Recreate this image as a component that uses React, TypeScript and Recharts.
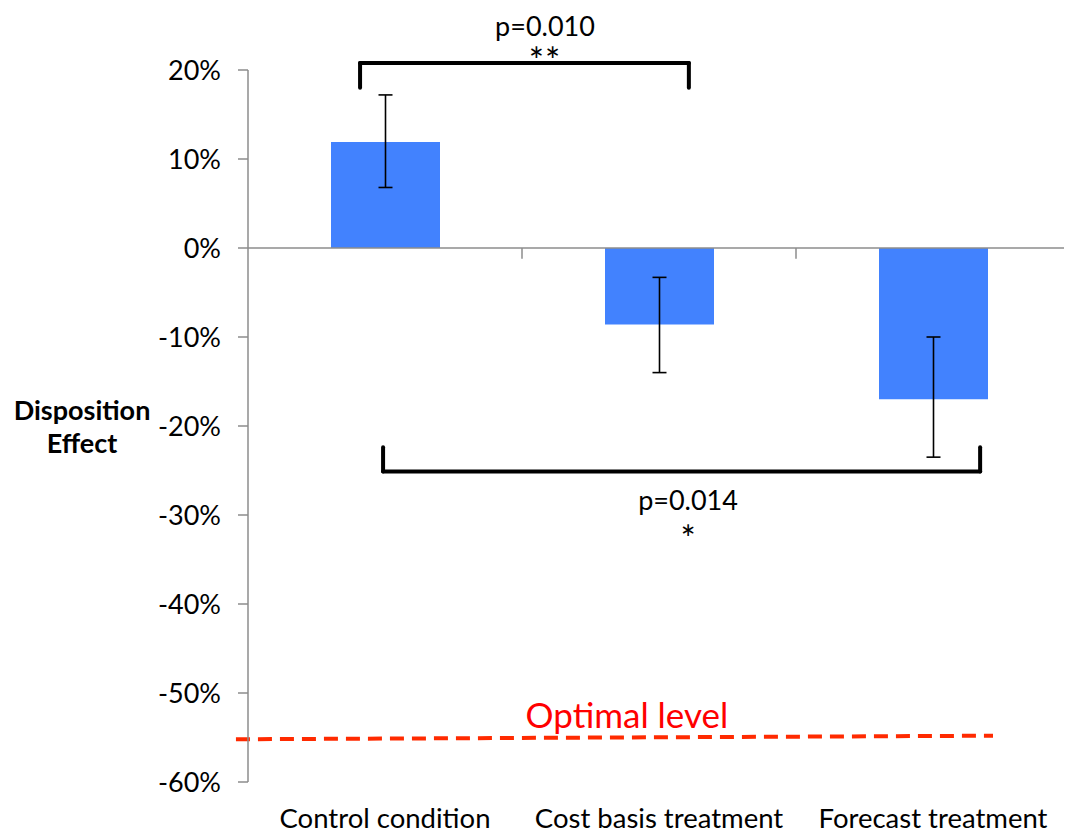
import React from 'react';
import { BarChart, Bar, XAxis, YAxis, ErrorBar, ReferenceLine, ReferenceDot } from 'recharts';

const categories = ['Control condition', 'Cost basis treatment', 'Forecast treatment'];
const positions = [0.5, 1.5, 2.5];
const effects = [11.9, -8.6, -17.0];
const errLower = [5.1, 5.4, 6.5];
const errUpper = [5.3, 5.3, 7.0];
const yTicks = [-60, -50, -40, -30, -20, -10, 0, 10, 20];

const optimalLine = [
  { x: -0.044, y: -55.2 },
  { x: 2.719, y: -54.8 },
];
const topBracket = { x1: 0.409, x2: 1.609, yBar: 20.8, yEnd: 18.0 };
const bottomBracket = { x1: 0.493, x2: 2.672, yBar: -25.1, yEnd: -22.4 };
const annotations = [
  { x: 1.084, y: 24.9, text: 'p=0.010', color: '#000', size: 27, spacing: 0 },
  { x: 1.084, y: 21.0, text: '**', color: '#000', size: 36, spacing: 1 },
  { x: 1.606, y: -28.4, text: 'p=0.014', color: '#000', size: 27, spacing: 0 },
  { x: 1.606, y: -32.7, text: '*', color: '#000', size: 36, spacing: 0 },
  { x: 1.383, y: -52.5, text: 'Optimal level', color: '#ff0000', size: 35, spacing: 0 },
];
const axisTicksX = [1, 2, 3];

const data = categories.map((c, i) => ({
  name: c,
  pos: positions[i],
  value: effects[i],
  err: [errLower[i], errUpper[i]],
}));

const FONT = 'Lato, "Open Sans", sans-serif';
const AXIS = '#8c8c8c';

const bracketSegs = (b: { x1: number; x2: number; yBar: number; yEnd: number }) => [
  [{ x: b.x1, y: b.yEnd }, { x: b.x1, y: b.yBar }],
  [{ x: b.x1, y: b.yBar }, { x: b.x2, y: b.yBar }],
  [{ x: b.x2, y: b.yBar }, { x: b.x2, y: b.yEnd }],
];

const YLabel = (props: any) => {
  const vb = props.viewBox || {};
  const cx = vb.x + 74;
  const cy = vb.y + vb.height / 2;
  return (
    <text x={cx} textAnchor="middle" fontFamily={FONT} fontWeight="bold" fontSize={27} fill="#000">
      <tspan x={cx} y={cy - 6}>Disposition</tspan>
      <tspan x={cx} y={cy + 27}>Effect</tspan>
    </text>
  );
};

export default function App() {
  return (
    <div style={{ fontFamily: FONT }}>
      <BarChart
        width={1064}
        height={827}
        data={data}
        margin={{ top: 62, right: 2, bottom: 3, left: 0 }}
      >
        <XAxis
          dataKey="name"
          axisLine={false}
          tickLine={false}
          tickSize={0}
          tickMargin={26}
          height={50}
          tick={{ fontFamily: FONT, fontSize: 27.5, fill: '#000' }}
          interval={0}
        />
        <XAxis xAxisId="n" dataKey="pos" type="number" domain={[0, 3]} hide allowDataOverflow />
        <YAxis
          domain={[-60, 20]}
          ticks={yTicks}
          interval={0}
          width={240}
          stroke={AXIS}
          strokeWidth={1.5}
          tickSize={10}
          tickMargin={17}
          tickFormatter={(v: number) => `${v}%`}
          tick={{ fontFamily: FONT, fontSize: 27, fill: '#000' }}
          label={<YLabel />}
        />
        <ReferenceLine y={0} stroke={AXIS} strokeWidth={1.5} />
        {axisTicksX.map((t) => (
          <ReferenceLine
            key={'t' + t}
            xAxisId="n"
            segment={[{ x: t, y: 0 }, { x: t, y: -1.2 }]}
            stroke={AXIS}
            strokeWidth={1.5}
            ifOverflow="visible"
          />
        ))}
        <Bar dataKey="value" fill="#4282fe" barSize={109} isAnimationActive={false}>
          <ErrorBar dataKey="err" width={7} stroke="#000" strokeWidth={1.6} />
        </Bar>
        {[...bracketSegs(topBracket), ...bracketSegs(bottomBracket)].map((seg, i) => (
          <ReferenceLine
            key={'b' + i}
            xAxisId="n"
            segment={seg}
            stroke="#000"
            strokeWidth={4}
            strokeLinecap="round"
            ifOverflow="visible"
          />
        ))}
        <ReferenceLine
          xAxisId="n"
          segment={optimalLine}
          stroke="#ff2a00"
          strokeWidth={4}
          strokeDasharray="14 8"
          ifOverflow="visible"
        />
        {annotations.map((a, i) => (
          <ReferenceDot
            key={'a' + i}
            xAxisId="n"
            x={a.x}
            y={a.y}
            r={0}
            fill="none"
            stroke="none"
            ifOverflow="visible"
            label={{
              value: a.text,
              position: 'center',
              fill: a.color,
              fontSize: a.size,
              fontFamily: FONT,
              letterSpacing: a.spacing,
            }}
          />
        ))}
      </BarChart>
    </div>
  );
}
